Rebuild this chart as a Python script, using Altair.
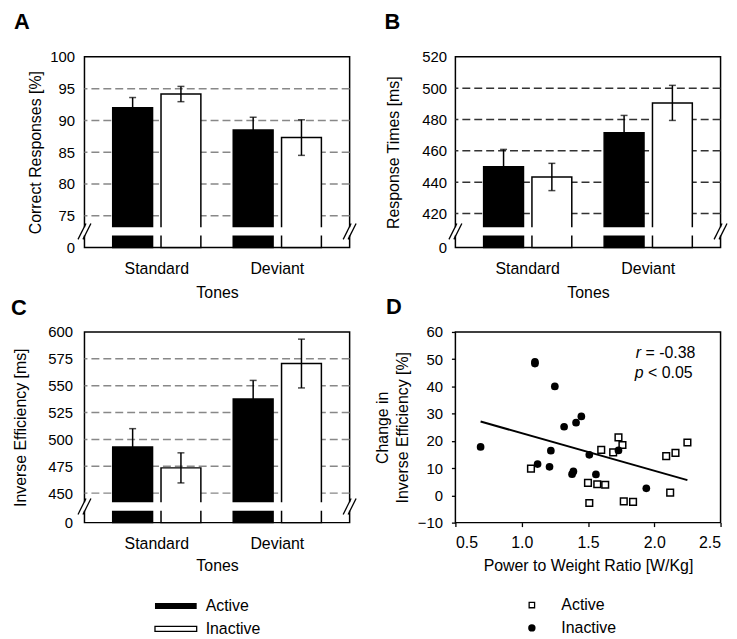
import altair as alt
import pandas as pd

FONT = "Liberation Sans"
tones = ["Standard", "Deviant"]
groups = ["Active", "Inactive"]

# order: Standard-Active, Standard-Inactive, Deviant-Active, Deviant-Inactive
acc_mean = [92.0, 94.15, 88.5, 87.3]
acc_err = [1.6, 1.2, 2.0, 2.8]
rt_mean = [449.9, 443.3, 471.6, 490.6]
rt_err = [11.0, 8.7, 11.0, 11.2]
ie_mean = [493.0, 473.5, 537.5, 570.6]
ie_err = [17.0, 14.0, 17.4, 22.7]

acc_ticks = [0, 75, 80, 85, 90, 95, 100]
acc_grid = [75, 80, 85, 90, 95]
rt_ticks = [0, 420, 440, 460, 480, 500, 520]
rt_grid = [420, 440, 460, 480, 500]
ie_ticks = [0, 450, 475, 500, 525, 550, 575, 600]
ie_grid = [450, 475, 500, 525, 550, 575]

# Panel D
active_x = [1.07, 1.50, 1.57, 1.63, 1.51, 1.60, 1.69, 1.73, 1.76, 1.77, 1.84, 2.09, 2.16, 2.25, 2.12]
active_y = [9.8, 4.6, 4.1, 3.9, -2.8, 16.7, 15.8, 21.3, 18.5, -2.2, -2.4, 14.4, 15.6, 19.4, 1.0]
inactive_x = [0.69, 1.10, 1.10, 1.25, 1.32, 1.41, 1.45, 1.22, 1.12, 1.21, 1.38, 1.39, 1.51, 1.56, 1.73, 1.94]
inactive_y = [17.8, 49.0, 48.4, 40.0, 25.2, 26.7, 29.0, 16.4, 11.5, 10.5, 7.8, 8.8, 14.9, 7.7, 16.5, 2.6]
fit_x = [0.69, 2.25]
fit_y = [27.1, 5.6]
d_xticks = [0.5, 1.0, 1.5, 2.0, 2.5]
d_yticks = [-10, 0, 10, 20, 30, 40, 50, 60]

W, H = 267, 192
BRK_TOP, BRK_BOT = 171.5, 180.0
one = pd.DataFrame({"d": [0]})


def letter_mark(txt, dx, dy):
    return alt.Chart(one).mark_text(
        text=txt, font=FONT, fontSize=22, fontWeight="bold", align="left",
        baseline="top", color="black"
    ).encode(x=alt.value(dx), y=alt.value(dy))


def slash_marks(yc):
    out = []
    for edge in (0, W):
        for c in (edge - 2.5, edge + 2.5):
            out.append(alt.Chart(one).mark_rule(color="black", strokeWidth=1.3).encode(
                x=alt.value(c - 4), x2=alt.value(c + 4),
                y=alt.value(yc + 8), y2=alt.value(yc - 8)))
    return out


def bar_panel(letter, means, errs, top, low_tick, low_px, ticks, grid_vals, grid_color,
              ytitle, ytitle_x, ylab_pad, xlab_pad, xtitle_y, ldx, ldy, legend=False):
    k = low_px / (top - low_tick)
    L = top - BRK_BOT / k
    band_hi = top - BRK_TOP / k
    ysc = alt.Scale(domain=[0, L, top], range=[H, BRK_BOT, 0], nice=False, zero=False)
    yax = alt.Axis(values=ticks, title=ytitle, grid=False, domain=False, ticks=False,
                   labelPadding=ylab_pad, labelFontSize=15, titleFontSize=16,
                   titleX=ytitle_x, titleY=H / 2, titleBaseline="middle",
                   titleFontWeight="normal")
    xsc = alt.Scale(domain=tones, paddingInner=0, paddingOuter=0.1)
    xax = alt.Axis(title="Tones", labelAngle=0, ticks=False, domain=False,
                   labelPadding=xlab_pad, labelFontSize=16, titleFontSize=16,
                   titleY=xtitle_y, titleBaseline="middle", titleFontWeight="normal")
    xo = alt.XOffset("Group:N", sort=groups,
                     scale=alt.Scale(domain=groups, paddingInner=0.175, paddingOuter=0.335))
    df = pd.DataFrame({
        "Tone": [t for t in tones for g in groups],
        "Group": groups * 2,
        "mean": means,
        "lo": [m - e for m, e in zip(means, errs)],
        "hi": [m + e for m, e in zip(means, errs)],
    })
    X = alt.X("Tone:N", sort=tones, scale=xsc, axis=xax)
    grid = alt.Chart(pd.DataFrame({"v": grid_vals})).mark_rule(
        color=grid_color, strokeDash=[8, 4], strokeWidth=1.5
    ).encode(y=alt.Y("v:Q", scale=ysc, axis=yax))
    bars = alt.Chart(df).mark_bar(stroke="black", strokeWidth=1.5).encode(
        x=X, xOffset=xo,
        y=alt.Y("mean:Q", scale=ysc, axis=yax),
        fill=alt.Fill("Group:N", scale=alt.Scale(domain=groups, range=["black", "white"]), legend=None),
    )
    band = alt.Chart(pd.DataFrame({"a": [L], "b": [band_hi]})).mark_rect(color="white").encode(
        y=alt.Y("a:Q", scale=ysc, axis=yax), y2="b:Q", x=alt.value(-5), x2=alt.value(W + 5))
    err = alt.Chart(df).mark_rule(color="black", strokeWidth=1.5).encode(
        x=X, xOffset=xo, y=alt.Y("lo:Q", scale=ysc, axis=yax), y2="hi:Q")
    cap_hi = alt.Chart(df).mark_tick(color="black", size=7, thickness=1.5).encode(
        x=X, xOffset=xo, y=alt.Y("hi:Q", scale=ysc, axis=yax))
    cap_lo = alt.Chart(df).mark_tick(color="black", size=7, thickness=1.5).encode(
        x=X, xOffset=xo, y=alt.Y("lo:Q", scale=ysc, axis=yax))
    layers = [grid, bars, band] + slash_marks((BRK_TOP + BRK_BOT) / 2) + [err, cap_hi, cap_lo,
                                                                         letter_mark(letter, ldx, ldy)]
    if legend:
        ly = [276, 299]
        layers.append(alt.Chart(one).mark_rect(color="black").encode(
            x=alt.value(71), x2=alt.value(113), y=alt.value(ly[0] - 3), y2=alt.value(ly[0] + 3)))
        layers.append(alt.Chart(one).mark_rect(color="white", stroke="black", strokeWidth=1.3).encode(
            x=alt.value(71), x2=alt.value(113), y=alt.value(ly[1] - 2.5), y2=alt.value(ly[1] + 2.5)))
        for g, yy in zip(groups, ly):
            layers.append(alt.Chart(one).mark_text(
                text=g, font=FONT, fontSize=16, align="left", baseline="middle", color="black"
            ).encode(x=alt.value(122), y=alt.value(yy)))
    return alt.layer(*layers).properties(width=W, height=H)


A = bar_panel("A", acc_mean, acc_err, 100, 75, 160, acc_ticks, acc_grid, "#888888",
              "Correct Responses [%]", -49, 10, 13.5, 45.7, -71, -45)
B = bar_panel("B", rt_mean, rt_err, 520, 420, 157.7, rt_ticks, rt_grid, "#333333",
              "Response Times [ms]", -62.5, 9, 13.5, 45.7, -71.5, -45)
C = bar_panel("C", ie_mean, ie_err, 600, 450, 162.3, ie_ticks, ie_grid, "#888888",
              "Inverse Efficiency [ms]", -64.3, 12, 13, 43, -74, -34, legend=True)

# Panel D
dxs = alt.Scale(domain=[0.5, 2.5], nice=False, zero=False)
dys = alt.Scale(domain=[-10, 60], nice=False, zero=False)
dxa = alt.Axis(values=d_xticks, format=".1f", grid=False, domain=False, tickSize=4, tickWidth=1.3,
               tickColor="black", labelPadding=8, labelFontSize=16, titleFontSize=16,
               title="Power to Weight Ratio [W/Kg]", titleY=43.6, titleBaseline="middle",
               titleFontWeight="normal")
dya = alt.Axis(values=d_yticks, grid=False, domain=False, tickSize=4, tickWidth=1.3,
               tickColor="black", labelPadding=9, labelFontSize=15, titleFontSize=16,
               title=["Change in", "Inverse Efficiency [%]"], titleX=-73, titleY=H / 2,
               titleBaseline="middle", titleLineHeight=20, titleFontWeight="normal")
act = alt.Chart(pd.DataFrame({"x": active_x, "y": active_y})).mark_point(
    shape="square", filled=False, color="black", strokeWidth=1.5, size=45, opacity=1
).encode(x=alt.X("x:Q", scale=dxs, axis=dxa), y=alt.Y("y:Q", scale=dys, axis=dya))
ina = alt.Chart(pd.DataFrame({"x": inactive_x, "y": inactive_y})).mark_circle(
    color="black", size=60, opacity=1
).encode(x=alt.X("x:Q", scale=dxs, axis=dxa), y=alt.Y("y:Q", scale=dys, axis=dya))
fit = alt.Chart(pd.DataFrame({"x": fit_x, "y": fit_y})).mark_line(color="black", strokeWidth=2).encode(
    x=alt.X("x:Q", scale=dxs, axis=dxa), y=alt.Y("y:Q", scale=dys, axis=dya))


def txt(t, x, y, italic=False):
    return alt.Chart(one).mark_text(
        text=t, font=FONT, fontSize=16, align="left", baseline="middle", color="black",
        fontStyle="italic" if italic else "normal"
    ).encode(x=alt.value(x), y=alt.value(y))


d_layers = [fit, act, ina,
            txt("r", 181.7, 21.5, True), txt("= -0.38", 191.4, 21.5),
            txt("p", 180.7, 41.5, True), txt("< 0.05", 194, 41.5),
            letter_mark("D", -70, -35),
            alt.Chart(one).mark_point(shape="square", filled=False, color="black", strokeWidth=1.3,
                                      size=30, opacity=1).encode(x=alt.value(77), y=alt.value(275)),
            alt.Chart(one).mark_circle(color="black", size=55, opacity=1).encode(
                x=alt.value(77), y=alt.value(298)),
            txt("Active", 106.7, 275), txt("Inactive", 106.7, 298)]
D = alt.layer(*d_layers).properties(width=W, height=H)

chart = alt.concat(A, B, C, D, columns=2, spacing={"row": 85, "column": 106.5},
                   bounds="flush").properties(
    padding={"left": 2, "top": 0, "right": 0, "bottom": 0}
).configure_view(stroke="black", strokeWidth=1.5).configure_axis(
    labelFont=FONT, titleFont=FONT, labelColor="black", titleColor="black"
)

chart.save("out.html", embed_options={"renderer": "svg", "actions": False})
